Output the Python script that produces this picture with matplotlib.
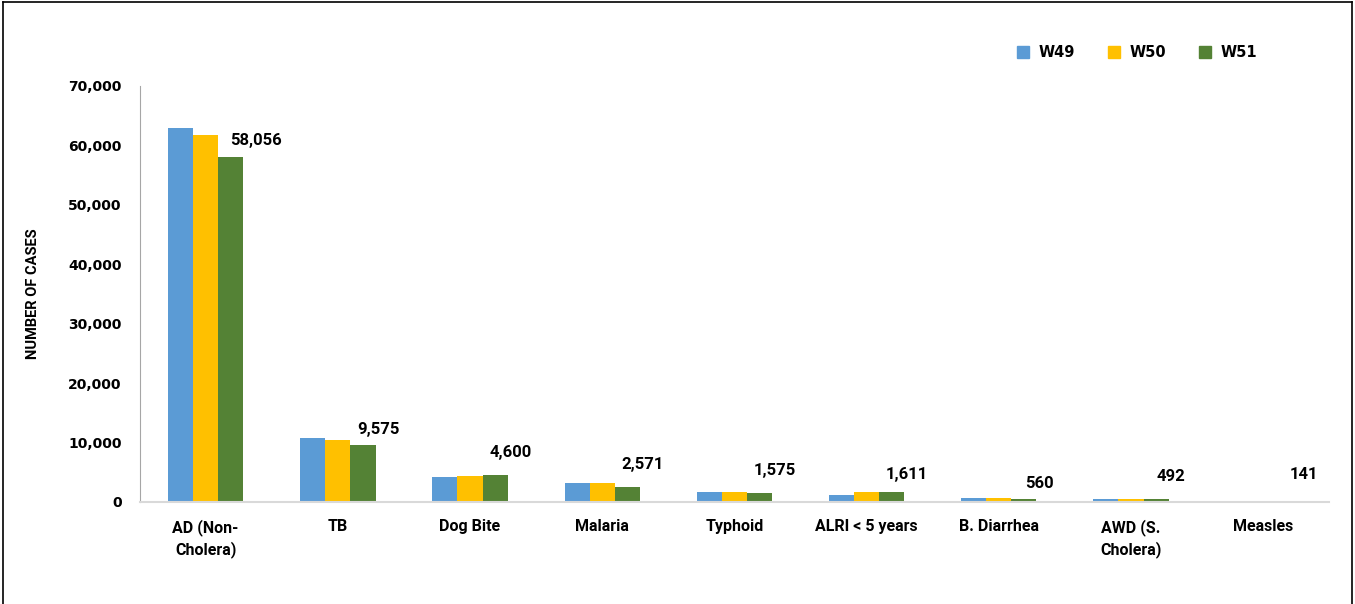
import numpy as np
import matplotlib.pyplot as plt
from matplotlib.lines import Line2D
from matplotlib.ticker import FuncFormatter

NARROW = "Roboto"
WIDE = "DejaVu Sans"
plt.rcParams['font.family'] = [NARROW, 'DejaVu Sans']
plt.rcParams['font.weight'] = 'bold'

# Данные по неделям
categories = ["AD (Non-\nCholera)", "TB", "Dog Bite", "Malaria", "Typhoid",
              "ALRI < 5 years", "B. Diarrhea", "AWD (S.\nCholera)", "Measles"]
w49 = [62900, 10750, 4200, 3200, 1700, 1200, 600, 540, 100]
w50 = [61700, 10450, 4380, 3150, 1700, 1650, 700, 500, 200]
w51 = [58056, 9575, 4600, 2571, 1575, 1611, 560, 492, 141]
series_names = ["W49", "W50", "W51"]
colors = ["#5B9BD5", "#FFC000", "#548235"]

# сдвиг подписей W51 (points)
label_dx = [18, 11, 11, 11, 11, 11, 11, 11, 11]
label_dy = [12, 11, 16, 16, 16, 13, 11, 16, 19]

fig = plt.figure(figsize=(13.55, 6.04), dpi=100)
ax = fig.add_axes([0.103, 0.169, 0.878, 0.689])

x = np.arange(len(categories))
width = 0.19
for i, (vals, name, c) in enumerate(zip([w49, w50, w51], series_names, colors)):
    ax.bar(x + (i - 1) * width, vals, width, color=c, label=name)

for xi, v, dx, dy in zip(x, w51, label_dx, label_dy):
    ax.annotate(f"{v:,}", (xi + width, v), xytext=(dx, dy), textcoords="offset points",
                ha="center", va="center", fontsize=12, fontweight="bold", family=NARROW)

ax.set_xlim(-0.5, len(categories) - 0.5)
ax.set_ylim(0, 70000)
ax.set_yticks(np.arange(0, 70001, 10000))
ax.yaxis.set_major_formatter(FuncFormatter(lambda v, p: f"{int(v):,}"))
ax.set_xticks(x)
ax.set_xticklabels(categories, fontsize=11.5, fontweight="bold", linespacing=1.4, family=NARROW)
ax.tick_params(axis="both", length=0)
ax.tick_params(axis="y", pad=13)
ax.tick_params(axis="x", pad=12)
for lbl in ax.get_yticklabels():
    lbl.set_fontweight("bold")
    lbl.set_family(WIDE)
    lbl.set_fontsize(10)

for s in ["top", "right"]:
    ax.spines[s].set_visible(False)
ax.spines["left"].set_color("#A6A6A6")
ax.spines["bottom"].set_color("#D9D9D9")
ax.spines["bottom"].set_linewidth(1.5)

ax.set_ylabel("NUMBER OF CASES", fontsize=10.5, fontweight="bold", labelpad=20, family=NARROW)

handles = [Line2D([], [], marker="s", linestyle="", markersize=9, color=c) for c in colors]
fig.legend(handles, series_names, loc="center", bbox_to_anchor=(0.836, 0.913), ncol=3,
           frameon=False, handletextpad=0.05, columnspacing=1.7,
           prop={"weight": "bold", "size": 10.5, "family": WIDE})

# рамка вокруг рисунка
for xs, ys in [([0.002, 0.002], [0, 0.997]), ([0.002, 0.998], [0.997, 0.997]),
               ([0.998, 0.998], [0, 0.997])]:
    fig.add_artist(Line2D(xs, ys, color="black", linewidth=1.2, transform=fig.transFigure))

fig.savefig("out.png", dpi=100)
